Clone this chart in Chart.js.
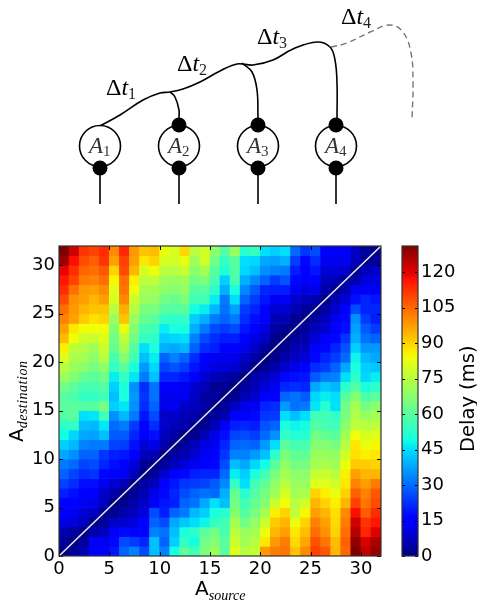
<!DOCTYPE html>
<html>
<head>
<meta charset="utf-8">
<title>Delay matrix</title>
<script src="https://cdn.jsdelivr.net/npm/chart.js@4/dist/chart.umd.min.js"></script>
<style>
	html, body { margin: 0; padding: 0; background: #fff; }
	#page { position: relative; width: 477px; height: 603px; overflow: hidden; }
	canvas { position: absolute; display: block; }
	#schema { left: 0; top: 0; }
	#heat { left: 0; top: 235px; }
	#cbar { left: 390px; top: 235px; }
</style>
</head>
<body>
<div id="page">
	<canvas id="schema" width="477" height="235"></canvas>
	<canvas id="heat" width="390" height="368"></canvas>
	<canvas id="cbar" width="87" height="368"></canvas>
</div>
<script>
// delay in ms. first row is the top of the plot (destination 31)
const delayRows = [
	[131,122,112,110,113,100,114,98,92,93,83,80,89,75,79,68,59,70,52,55,45,43,45,30,23,26,16,14,15,8,3,1],
	[128,117,109,106,112,97,110,97,87,90,80,79,83,71,79,64,54,60,45,44,38,37,39,24,17,22,13,12,13,7,2,3],
	[119,113,105,104,107,90,109,94,80,84,75,75,78,68,72,60,51,59,44,41,35,33,32,20,15,19,10,10,9,2,6,8],
	[116,110,102,101,104,85,104,86,76,76,71,70,71,64,66,57,43,57,39,34,29,24,27,17,14,15,7,6,3,5,11,11],
	[113,104,98,97,100,81,103,84,72,72,68,67,69,59,60,53,39,50,34,28,21,20,20,13,11,12,5,2,6,13,14,13],
	[109,99,97,94,97,80,100,78,70,69,64,62,65,56,56,47,32,45,29,24,19,13,13,9,7,5,1,6,10,18,21,19],
	[104,98,94,92,92,75,95,75,65,65,60,59,60,49,47,40,31,37,24,21,15,9,9,6,3,1,4,9,16,26,21,21],
	[101,97,91,88,90,70,92,70,62,60,54,53,54,43,39,32,29,32,22,18,15,6,6,2,1,4,7,13,17,35,24,20],
	[97,87,84,84,84,67,83,67,57,56,47,50,50,39,32,26,24,26,19,15,11,4,2,0,3,7,9,15,18,37,28,24],
	[93,84,78,78,81,64,76,64,54,53,43,44,45,33,26,22,20,20,15,11,8,1,0,3,5,10,14,17,23,39,31,29],
	[86,76,74,71,78,62,72,59,45,50,39,38,40,29,22,20,15,15,12,8,3,0,2,6,7,15,17,21,27,43,36,36],
	[81,73,72,68,75,57,67,56,41,47,29,33,29,22,16,13,12,12,8,4,0,1,5,8,10,17,21,24,30,48,40,38],
	[75,70,68,65,68,54,60,50,36,44,25,27,24,19,13,11,10,9,5,0,2,5,9,12,15,22,24,29,38,50,43,42],
	[70,67,62,60,64,47,54,46,32,41,21,21,19,15,9,6,5,3,0,5,7,10,17,18,19,28,32,33,45,53,44,47],
	[64,60,57,57,59,43,50,35,22,31,14,15,13,9,6,2,2,0,3,6,10,13,21,22,21,38,42,40,53,59,50,53],
	[60,58,54,54,56,41,50,36,23,31,12,12,13,8,4,3,0,2,6,9,15,16,29,31,28,44,47,45,60,67,58,60],
	[60,60,59,60,65,43,46,35,22,29,12,13,8,7,4,0,3,8,12,13,21,22,36,31,32,46,52,45,64,72,64,68],
	[59,60,45,46,56,35,40,32,19,26,8,8,6,5,1,3,5,15,15,17,23,24,45,41,45,56,56,54,65,74,70,72],
	[53,54,41,40,46,30,32,24,15,22,9,6,5,1,2,6,14,20,21,20,27,29,50,48,49,59,57,56,68,76,75,76],
	[49,44,38,37,41,28,28,21,15,18,7,4,0,2,6,12,18,25,26,24,30,35,54,51,52,64,62,60,72,84,80,81],
	[43,40,33,32,32,25,24,18,10,12,5,0,3,7,11,13,21,29,30,29,36,45,60,57,57,67,67,65,75,87,83,85],
	[38,35,29,29,23,20,19,15,7,6,0,4,6,9,13,15,23,33,33,36,41,53,65,61,61,70,70,69,79,88,86,87],
	[32,30,25,26,21,18,15,10,3,0,3,7,10,13,15,17,26,41,38,44,49,60,69,64,65,72,73,71,83,91,91,90],
	[29,25,22,23,17,16,13,7,0,3,9,14,17,20,21,21,30,47,43,50,56,65,72,68,68,77,78,75,86,97,94,94],
	[25,22,18,18,13,9,6,0,4,7,15,19,23,24,25,28,34,54,45,56,61,69,75,70,70,81,81,79,87,101,97,102],
	[20,18,15,14,8,5,0,3,6,12,17,21,26,29,31,30,39,62,52,59,65,71,80,72,73,90,86,83,90,106,101,107],
	[16,15,13,12,7,0,2,5,8,14,19,20,29,31,38,45,41,64,56,62,67,78,84,75,79,94,90,86,94,110,103,109],
	[14,13,10,8,2,2,5,7,11,26,20,29,32,40,43,50,52,67,59,65,72,86,90,76,85,97,94,88,100,117,106,113],
	[11,10,7,1,3,8,9,11,15,29,26,38,42,45,48,54,56,72,64,69,78,91,94,83,90,101,97,89,102,122,112,116],
	[6,4,0,5,7,14,17,15,16,33,31,41,50,53,60,64,57,75,70,72,83,94,97,87,93,104,99,90,104,125,114,120],
	[3,0,3,14,13,17,26,24,21,41,29,43,54,49,64,67,60,78,72,75,87,98,102,89,96,108,103,93,106,129,121,126],
	[0,3,6,15,15,19,29,33,26,41,33,49,60,56,65,70,60,81,75,77,98,102,103,92,100,110,107,94,105,131,124,128]
];
const sourceCells = delayRows[0].map((_, i) => i);
const axisMax = 32;
const axisTickStep = 5;
const delayMax = 131;
const delayTickStep = 15;
const diagonal = [{x: 0, y: 0}, {x: 32, y: 32}];

// schematic, in page pixels
const somaX = [100, 179, 258, 336];
const somaY = [146, 146, 146, 146];
const somaLabels = ['1', '2', '3', '4'];
const dtLabels = ['1', '2', '3', '4'];
const topDotX = [179, 258, 336];
const topDotY = [125, 125, 125];
const bottomDotX = [100, 179, 258, 336];
const bottomDotY = [168, 168, 168, 168];
const axonMain = [[100,126],[120,115],[143,100],[160,93],[170,92],[183,89],[200,82],[220,71],[237,64],[253,65],[273,60],[293,49],[317,42],[330,47],[335,60],[337,83],[337,118]];
const branch2 = [[170,92],[175,97],[179,110],[179,118]];
const branch3 = [[242,63],[252,72],[257,90],[258,118]];
const axonNext = [[331,47],[347,43],[370,32],[390,25],[403,32],[411,53],[413,83],[412,120]];

function jetChannel(t, pts) {
	for (let i = 1; i < pts.length; i++) {
		if (t <= pts[i][0]) {
			const a = pts[i - 1], b = pts[i];
			return a[1] + (b[1] - a[1]) * (t - a[0]) / (b[0] - a[0]);
		}
	}
	return pts[pts.length - 1][1];
}

function jet(t) {
	const r = jetChannel(t, [[0, 0], [0.35, 0], [0.66, 1], [0.89, 1], [1, 0.5]]);
	const g = jetChannel(t, [[0, 0], [0.125, 0], [0.375, 1], [0.64, 1], [0.91, 0], [1, 0]]);
	const b = jetChannel(t, [[0, 0.5], [0.11, 1], [0.34, 1], [0.65, 0], [1, 0]]);
	return `rgb(${Math.round(r * 255)},${Math.round(g * 255)},${Math.round(b * 255)})`;
}

// draws runs of text one after the other, so sub/subscripts can have another font
function textRun(ctx, x, y, parts) {
	ctx.textAlign = 'left';
	ctx.textBaseline = 'alphabetic';
	parts.forEach(p => {
		ctx.font = p.font;
		ctx.fillStyle = p.color || '#000';
		ctx.letterSpacing = p.spacing || '0px';
		ctx.fillText(p.text, x, y + (p.dy || 0));
		x += ctx.measureText(p.text).width + (p.gap || 0);
	});
	ctx.letterSpacing = '0px';
}

function drawFrame(chart, xScale, yScale, tickLen) {
	const ctx = chart.ctx, a = chart.chartArea;
	ctx.save();
	ctx.strokeStyle = '#000';
	ctx.lineWidth = 1;
	ctx.beginPath();
	if (xScale) {
		xScale.ticks.forEach(t => {
			const px = Math.round(xScale.getPixelForValue(t.value)) + 0.5;
			ctx.moveTo(px, a.bottom); ctx.lineTo(px, a.bottom - tickLen);
			ctx.moveTo(px, a.top); ctx.lineTo(px, a.top + tickLen);
		});
	}
	yScale.ticks.forEach(t => {
		const py = Math.round(yScale.getPixelForValue(t.value)) + 0.5;
		ctx.moveTo(a.left, py); ctx.lineTo(a.left + tickLen, py);
		ctx.moveTo(a.right, py); ctx.lineTo(a.right - tickLen, py);
	});
	ctx.stroke();
	ctx.strokeStyle = '#333';
	ctx.lineWidth = 1.2;
	ctx.strokeRect(a.left, a.top, a.right - a.left, a.bottom - a.top);
	ctx.restore();
}

// tick labels stick out of the scale box, that must not move the plot area
function fixBox(s, w, h) {
	if (w) s.width = w;
	if (h) s.height = h;
	s.paddingTop = 0;
	s.paddingBottom = 0;
	s.paddingLeft = 0;
	s.paddingRight = 0;
}

const tickFont = {family: '"DejaVu Sans"', size: 18};

// heat map: one floating bar per cell, one dataset per row
const rowDatasets = delayRows.map((row, i) => {
	const level = delayRows.length - 1 - i;
	return {
		data: row.map(() => [level, level + 1]),
		backgroundColor: row.map(v => jet(v / delayMax)),
		borderWidth: 0,
		grouped: false,
		barPercentage: 1,
		categoryPercentage: 1,
		xAxisID: 'x',
		yAxisID: 'y'
	};
});

new Chart(document.getElementById('heat'), {
	type: 'bar',
	data: {
		labels: sourceCells,
		datasets: [{
			type: 'line',
			data: diagonal,
			xAxisID: 'xLin',
			yAxisID: 'y',
			borderColor: '#e8e8f0',
			borderWidth: 1.5,
			pointRadius: 0,
			order: -1
		}].concat(rowDatasets)
	},
	options: {
		responsive: false,
		animation: false,
		devicePixelRatio: 1,
		layout: {autoPadding: false, padding: {top: 11, right: 9, left: 0, bottom: 0}},
		plugins: {legend: {display: false}, tooltip: {enabled: false}},
		scales: {
			x: {type: 'category', display: false, offset: true},
			xLin: {
				type: 'linear',
				axis: 'x',
				position: 'bottom',
				min: 0,
				max: axisMax,
				offset: false,
				grid: {display: false, drawTicks: false},
				border: {display: false},
				ticks: {stepSize: axisTickStep, includeBounds: false, font: tickFont, color: '#000', maxRotation: 0, padding: 3},
				afterFit: s => fixBox(s, 0, 47)
			},
			y: {
				type: 'linear',
				min: 0,
				max: axisMax,
				grid: {display: false, drawTicks: false},
				border: {display: false},
				ticks: {stepSize: axisTickStep, includeBounds: false, font: tickFont, color: '#000', padding: 4},
				afterFit: s => fixBox(s, 59, 0)
			}
		}
	},
	plugins: [{
		id: 'heatExtras',
		afterDraw(chart) {
			drawFrame(chart, chart.scales.xLin, chart.scales.y, 4);
			const ctx = chart.ctx;
			ctx.save();
			textRun(ctx, 195, 360, [
				{text: 'A', font: '20px "DejaVu Sans"'},
				{text: 'source', font: 'italic 14px "Liberation Serif"', dy: 5}
			]);
			ctx.translate(23, 207);
			ctx.rotate(-Math.PI / 2);
			textRun(ctx, 0, 0, [
				{text: 'A', font: '20px "DejaVu Sans"'},
				{text: 'destination', font: 'italic 14px "Liberation Serif"', dy: 4, spacing: '0.5px'}
			]);
			ctx.restore();
		}
	}]
});

// colour bar: a single bar with the jet ramp as its fill
const rampStops = [0, 0.11, 0.125, 0.34, 0.35, 0.375, 0.5, 0.64, 0.65, 0.66, 0.89, 0.91, 1];
new Chart(document.getElementById('cbar'), {
	type: 'bar',
	data: {
		labels: ['Delay'],
		datasets: [{
			data: [[0, delayMax]],
			barPercentage: 1,
			categoryPercentage: 1,
			borderWidth: 0,
			backgroundColor(c) {
				const a = c.chart.chartArea;
				if (!a) return '#000';
				const g = c.chart.ctx.createLinearGradient(0, a.bottom, 0, a.top);
				rampStops.forEach(s => g.addColorStop(s, jet(s)));
				return g;
			}
		}]
	},
	options: {
		responsive: false,
		animation: false,
		devicePixelRatio: 1,
		layout: {autoPadding: false, padding: {top: 11, left: 12, right: 0, bottom: 47}},
		plugins: {legend: {display: false}, tooltip: {enabled: false}},
		scales: {
			x: {display: false, offset: true},
			y: {
				position: 'right',
				min: 0,
				max: delayMax,
				grid: {display: false, drawTicks: false},
				border: {display: false},
				ticks: {stepSize: delayTickStep, includeBounds: false, font: tickFont, color: '#000', padding: 3},
				afterFit: s => fixBox(s, 59, 0)
			}
		}
	},
	plugins: [{
		id: 'cbarExtras',
		afterDraw(chart) {
			drawFrame(chart, null, chart.scales.y, 3);
			const ctx = chart.ctx;
			ctx.save();
			ctx.translate(83.5, 217);
			ctx.rotate(-Math.PI / 2);
			textRun(ctx, 0, 0, [{text: 'Delay (ms)', font: '19.5px "DejaVu Sans"'}]);
			ctx.restore();
		}
	}]
});

// schematic: hidden axes that run in page pixels
const toPoints = arr => arr.map(p => ({x: p[0], y: p[1]}));
const zip = (xs, ys) => xs.map((x, i) => ({x: x, y: ys[i]}));
const axonStyle = {borderColor: '#000', borderWidth: 1.6, pointRadius: 0, showLine: true, tension: 0.4};
const stems = bottomDotX.map(x => ({
	data: [{x: x, y: 168}, {x: x, y: 204}],
	borderColor: '#000',
	borderWidth: 1.6,
	pointRadius: 0,
	showLine: true
}));

new Chart(document.getElementById('schema'), {
	type: 'scatter',
	data: {
		datasets: [
			{data: zip(bottomDotX, bottomDotY), pointRadius: 7.5, pointBackgroundColor: '#000', pointBorderWidth: 0, order: 0},
			{data: zip(topDotX, topDotY), pointRadius: 7.5, pointBackgroundColor: '#000', pointBorderWidth: 0, order: 0},
			{data: zip(somaX, somaY), pointRadius: 20.5, pointBackgroundColor: '#fff', pointBorderColor: '#000', pointBorderWidth: 1.6, order: 1},
			Object.assign({data: toPoints(axonMain), order: 2}, axonStyle),
			Object.assign({data: toPoints(branch2), order: 2}, axonStyle),
			Object.assign({data: toPoints(branch3), order: 2}, axonStyle),
			{data: toPoints(axonNext), borderColor: '#777', borderWidth: 1.4, borderDash: [6, 4], pointRadius: 0, showLine: true, tension: 0.4, order: 2}
		].concat(stems)
	},
	options: {
		responsive: false,
		animation: false,
		devicePixelRatio: 1,
		layout: {autoPadding: false, padding: 0},
		plugins: {legend: {display: false}, tooltip: {enabled: false}},
		scales: {
			x: {type: 'linear', display: false, min: 0, max: 477},
			y: {type: 'linear', display: false, min: 0, max: 235, reverse: true}
		}
	},
	plugins: [{
		id: 'schemaLabels',
		afterDraw(chart) {
			const ctx = chart.ctx, xs = chart.scales.x, ys = chart.scales.y;
			ctx.save();
			const dtPos = [[106, 95], [177, 71], [257, 44], [341, 24]];
			dtLabels.forEach((s, i) => {
				textRun(ctx, xs.getPixelForValue(dtPos[i][0]), ys.getPixelForValue(dtPos[i][1]), [
					{text: '\u0394', font: '24px "Liberation Serif"'},
					{text: 't', font: 'italic 24px "Liberation Serif"'},
					{text: s, font: '16px "Liberation Serif"', dy: 4, color: '#222'}
				]);
			});
			somaLabels.forEach((s, i) => {
				textRun(ctx, xs.getPixelForValue(somaX[i] - 11), ys.getPixelForValue(somaY[i] + 7), [
					{text: 'A', font: 'italic 23px "Liberation Serif"', color: '#333'},
					{text: s, font: '15px "Liberation Serif"', dy: 3, color: '#333'}
				]);
			});
			ctx.restore();
		}
	}]
});
</script>
</body>
</html>
